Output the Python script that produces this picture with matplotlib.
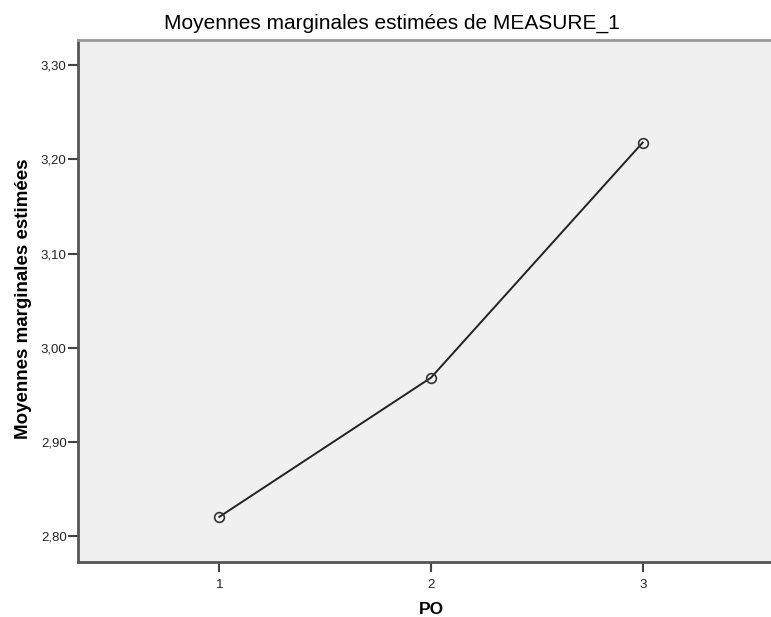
import matplotlib
matplotlib.use("Agg")
import matplotlib.pyplot as plt

levels = [1, 2, 3]
means = [2.820, 2.968, 3.218]
yticks = [2.80, 2.90, 3.00, 3.10, 3.20, 3.30]
ytick_labels = ["2,80", "2,90", "3,00", "3,10", "3,20", "3,30"]
title = "Moyennes marginales estimées de MEASURE_1"
xlabel = "PO"
ylabel = "Moyennes marginales estimées"

plt.rcParams['font.family'] = ['Liberation Sans', 'DejaVu Sans']

fig = plt.figure(figsize=(7.71, 6.17), dpi=100)
ax = fig.add_axes([77.7/771, 55/617, 1 - 77.7/771, 522/617])
ax.set_facecolor("#f0f0f0")

ax.plot(levels, means, color="#222222", lw=1.4, marker="o", markersize=7,
        markerfacecolor="none", markeredgecolor="#333333", markeredgewidth=1.2)

ax.set_xlim(0.331, 3.606)
ax.set_ylim(2.772, 3.327)
ax.set_xticks(levels)
ax.set_xticklabels([str(l) for l in levels], fontsize=9.5, color="#222222")
ax.set_yticks(yticks)
ax.set_yticklabels(ytick_labels, fontsize=9.5, color="#222222")
ax.tick_params(axis='y', length=7, width=1.5, color="#444444", pad=1)
ax.tick_params(axis='x', length=7, width=1.5, color="#444444", pad=5)

for side in ["left", "bottom"]:
    ax.spines[side].set_color("#555555")
    ax.spines[side].set_linewidth(2)
ax.spines["top"].set_color("#999999")
ax.spines["top"].set_linewidth(2)
ax.spines["right"].set_visible(False)

ax.set_xlabel(xlabel, fontsize=12.5, fontweight="bold")
ax.xaxis.set_label_coords((431 - 77.7) / (771 - 77.7), -(609 - 562) / 522)
ax.xaxis.label.set_va("center")
ax.set_ylabel(ylabel, fontsize=13.5, fontweight="bold")
ax.yaxis.set_label_coords(-(77.7 - 24) / (771 - 77.7), (562 - 299) / 522)
ax.yaxis.label.set_va("center")

fig.text(391.5/771, 1 - 23/617, title, ha="center", va="center", fontsize=15)

fig.savefig("out.png", dpi=100)
